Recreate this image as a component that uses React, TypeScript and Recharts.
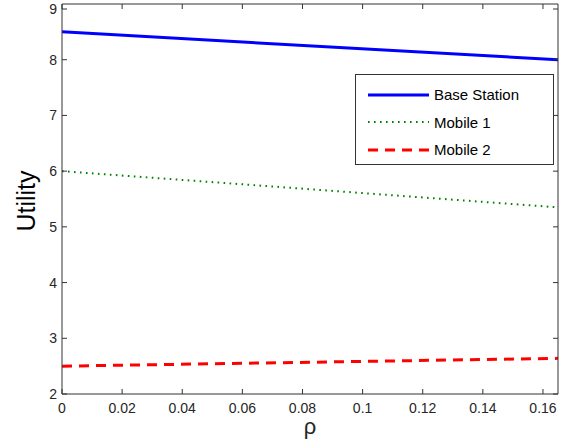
import { LineChart, Line, XAxis, YAxis } from 'recharts';

// rho values at the two ends of the plotted range
const RHO = [0, 0.165];
const BASE_STATION = [8.5, 8.0];
const MOBILE_1 = [6.0, 5.35];
const MOBILE_2 = [2.5, 2.64];

const X_TICKS = [0, 0.02, 0.04, 0.06, 0.08, 0.1, 0.12, 0.14, 0.16];
const Y_TICKS = [2, 3, 4, 5, 6, 7, 8, 9];

const SERIES = [
  { key: 'bs', name: 'Base Station', color: '#0000ff', width: 3, dash: undefined as string | undefined },
  { key: 'm1', name: 'Mobile 1', color: '#008000', width: 2, dash: '1.6 4.4' },
  { key: 'm2', name: 'Mobile 2', color: '#ff0000', width: 3, dash: '10 7' },
];

const data = RHO.map((rho, i) => ({
  rho,
  bs: BASE_STATION[i],
  m1: MOBILE_1[i],
  m2: MOBILE_2[i],
}));

const FONT = "'Liberation Sans', Arial, sans-serif";
const AXIS = '#333333';
const TEXT = '#262626';
const TICK_LEN = 5;
const X_MARGIN = 16;
const Y_MARGIN = 5;

// MATLAB-style ticks: the tick mark points into the plot
function BottomTick(props: any) {
  const { x, y, payload } = props;
  const axisY = y - X_MARGIN;
  return (
    <g>
      <line x1={x} x2={x} y1={axisY} y2={axisY - TICK_LEN} stroke={AXIS} />
      <text x={x} y={y} dy={3} textAnchor="middle" fontSize={14} fontFamily={FONT} fill={TEXT}>
        {String(payload.value)}
      </text>
    </g>
  );
}

function LeftTick(props: any) {
  const { x, y, payload } = props;
  const axisX = x + Y_MARGIN;
  return (
    <g>
      <line x1={axisX} x2={axisX + TICK_LEN} y1={y} y2={y} stroke={AXIS} />
      <text x={x} y={y} dy={5} textAnchor="end" fontSize={14} fontFamily={FONT} fill={TEXT}>
        {String(payload.value)}
      </text>
    </g>
  );
}

function TopTick(props: any) {
  const { x, y } = props;
  return <line x1={x} x2={x} y1={y} y2={y + TICK_LEN} stroke={AXIS} />;
}

function RightTick(props: any) {
  const { x, y } = props;
  return <line x1={x} x2={x - TICK_LEN} y1={y} y2={y} stroke={AXIS} />;
}

function LegendBox() {
  return (
    <div
      style={{
        position: 'absolute',
        left: 355,
        top: 74,
        width: 197,
        height: 83,
        border: `1px solid ${AXIS}`,
        background: '#fff',
        fontFamily: FONT,
        fontSize: 15,
        color: '#000',
        paddingTop: 6,
        boxSizing: 'content-box',
      }}
    >
      {SERIES.map((s) => (
        <div key={s.key} style={{ display: 'flex', alignItems: 'center', height: 27.5 }}>
          <svg width={78} height={10}>
            <line
              x1={12}
              x2={73}
              y1={5}
              y2={5}
              stroke={s.color}
              strokeWidth={s.width}
              strokeDasharray={s.dash}
            />
          </svg>
          <span>{s.name}</span>
        </div>
      ))}
    </div>
  );
}

export default function App() {
  return (
    <div style={{ position: 'absolute', left: 0, top: 0, width: 575, height: 446, background: '#fff' }}>
      <LineChart width={575} height={446} data={data} margin={{ top: 3, right: 16, left: 0, bottom: 0 }}>
        <XAxis
          dataKey="rho"
          type="number"
          domain={[0, 0.165]}
          ticks={X_TICKS}
          allowDataOverflow
          height={52}
          stroke={AXIS}
          tickLine={false}
          tickSize={0}
          tickMargin={X_MARGIN}
          tick={<BottomTick />}
          label={() => (
            <text x={310} y={434} textAnchor="middle" fontSize={22} fontFamily={FONT} fill={TEXT}>
              ρ
            </text>
          )}
        />
        <XAxis
          xAxisId="top"
          dataKey="rho"
          orientation="top"
          type="number"
          domain={[0, 0.165]}
          ticks={X_TICKS}
          allowDataOverflow
          height={1}
          stroke={AXIS}
          tickLine={false}
          tickSize={0}
          tickMargin={0}
          tick={<TopTick />}
        />
        <YAxis
          type="number"
          domain={[2, 9]}
          ticks={Y_TICKS}
          allowDataOverflow
          width={62}
          stroke={AXIS}
          tickLine={false}
          tickSize={0}
          tickMargin={Y_MARGIN}
          tick={<LeftTick />}
          label={() => (
            <text
              x={35}
              y={201}
              transform="rotate(-90 35 201)"
              textAnchor="middle"
              fontSize={25}
              fontFamily={FONT}
              fill="#000"
            >
              Utility
            </text>
          )}
        />
        <YAxis
          yAxisId="right"
          orientation="right"
          type="number"
          domain={[2, 9]}
          ticks={Y_TICKS}
          allowDataOverflow
          width={1}
          stroke={AXIS}
          tickLine={false}
          tickSize={0}
          tickMargin={0}
          tick={<RightTick />}
        />
        {/* invisible series so the top and right axes are active */}
        <Line
          xAxisId="top"
          yAxisId="right"
          dataKey="bs"
          stroke="none"
          dot={false}
          activeDot={false}
          legendType="none"
          isAnimationActive={false}
        />
        {SERIES.map((s) => (
          <Line
            key={s.key}
            dataKey={s.key}
            name={s.name}
            stroke={s.color}
            strokeWidth={s.width}
            strokeDasharray={s.dash}
            dot={false}
            activeDot={false}
            isAnimationActive={false}
          />
        ))}
      </LineChart>
      <LegendBox />
    </div>
  );
}
